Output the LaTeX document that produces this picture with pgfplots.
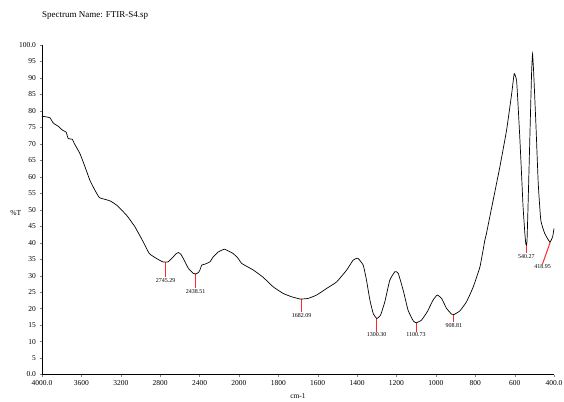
\documentclass[border=0pt]{standalone}
\usepackage{fontspec}
\setmainfont{Liberation Serif}
\usepackage{pgfplots}
\pgfplotsset{compat=1.18}
\definecolor{pk}{RGB}{255,40,40}
\pgfplotstableread{
w T
4000 78.4
3960 78.2
3919 77.9
3885 76.3
3834 75.3
3790 74.1
3756 73.6
3733 71.6
3692 71.4
3672 70.1
3614 67.0
3563 63.0
3513 58.9
3462 55.9
3418 53.7
3378 53.3
3310 52.7
3242 51.4
3140 48.3
3056 44.8
2971 40.2
2910 36.7
2836 35.2
2775 34.2
2745 34.1
2718 34.2
2667 35.7
2640 36.6
2616 37.0
2590 36.5
2565 35.2
2513 32.2
2464 30.7
2438 30.5
2410 31.0
2396 31.7
2378 33.2
2345 33.5
2294 34.2
2261 35.7
2210 37.2
2152 38.0
2142 38.0
2108 37.5
2058 36.7
2007 35.2
1986 33.7
1927 31.7
1877 29.5
1826 26.6
1775 24.6
1733 23.6
1690 22.9
1682 22.9
1648 23.1
1606 24.1
1555 26.1
1504 28.1
1453 31.7
1420 34.7
1400 35.3
1394 35.2
1369 33.2
1352 28.6
1335 22.6
1318 18.5
1300 17.0
1281 18.0
1259 22.1
1234 28.6
1208 31.2
1191 30.7
1166 25.6
1141 19.5
1115 16.3
1100 15.7
1073 16.5
1044 19.0
1014 22.6
993 24.1
971 23.1
946 20.1
920 18.3
908 18.2
878 19.3
844 22.1
810 26.6
776 32.7
751 40.8
743 42.8
709 52.9
675 63.0
641 74.1
615 85.2
602 91.3
590 89.2
582 81.2
573 71.1
565 61.0
557 50.8
548 42.8
543 39.6
540 39.3
537 40.5
532 50.8
523 71.1
514 91.3
509 97.3
503 91.3
492 76.1
480 57.9
467 46.8
447 42.8
421 40.2
407 41.8
400 44.3
}\spectrum
\begin{document}
\begin{tikzpicture}[x=1pt,y=1pt]
\useasboundingbox (0,0) rectangle (564,401);
\begin{axis}[
  at={(42pt,26.5pt)}, anchor=south west,
  scale only axis, width=512pt, height=329.5pt,
  x coord trafo/.code={\pgfmathparse{#1>=2000 ? (4000-#1)/400 : 5+(2000-#1)/200}},
  xmin=4000, xmax=400, ymin=0, ymax=100,
  axis x line=bottom, axis y line=left, axis line style={-, line width=0.6pt},
  xtick={4000,3600,3200,2800,2400,2000,1800,1600,1400,1200,1000,800,600,400},
  xticklabels={4000.0,3600,3200,2800,2400,2000,1800,1600,1400,1200,1000,800,600,400.0},
  ytick={0,5,...,100},
  yticklabels={0.0,5,10,15,20,25,30,35,40,45,50,55,60,65,70,75,80,85,90,95,100.0},
  tick align=outside, major tick length=2.5pt,
  tick label style={font=\fontsize{7.5}{8.5}\selectfont},
  clip=false,
]
\addplot[pk, line width=1pt] coordinates {(2745.29,34.1) (2745.29,29.5)};
\addplot[pk, line width=1pt] coordinates {(2438.51,30.5) (2438.51,26.2)};
\addplot[pk, line width=1pt] coordinates {(1682.09,22.9) (1682.09,18.9)};
\addplot[pk, line width=1pt] coordinates {(1300.30,17.0) (1300.30,12.9)};
\addplot[pk, line width=1pt] coordinates {(1100.73,15.7) (1100.73,12.9)};
\addplot[pk, line width=1pt] coordinates {(908.81,18.2) (908.81,15.9)};
\addplot[pk, line width=1pt] coordinates {(540.27,39.3) (540.27,36.8)};
\addplot[pk, line width=1pt] coordinates {(418.95,40.2) (458,33.6)};
\addplot[black, line width=0.7pt, smooth, tension=0.25] table[x=w, y=T] {\spectrum};
\begin{scope}[every node/.style={font=\fontsize{6}{7}\selectfont, inner sep=0.8pt, anchor=north}]
\node at (axis cs:2745.29,29.5) {2745.29};
\node at (axis cs:2438.51,26.2) {2438.51};
\node at (axis cs:1682.09,18.9) {1682.09};
\node at (axis cs:1300.30,12.9) {1300.30};
\node at (axis cs:1100.73,12.9) {1100.73};
\node at (axis cs:908.81,15.9) {908.81};
\node at (axis cs:540.27,36.8) {540.27};
\node at (axis cs:458,33.6) {418.95};
\end{scope}
\node[font=\fontsize{7.5}{8.5}\selectfont] at (axis description cs:-0.051,0.49) {\%T};
\node[font=\fontsize{7.5}{8.5}\selectfont] at (axis description cs:0.5,-0.065) {cm-1};
\node[font=\fontsize{9}{10}\selectfont, anchor=west, inner sep=0pt] at (axis description cs:0,1.091) {Spectrum Name: FTIR-S4.sp};
\end{axis}
\end{tikzpicture}
\end{document}
